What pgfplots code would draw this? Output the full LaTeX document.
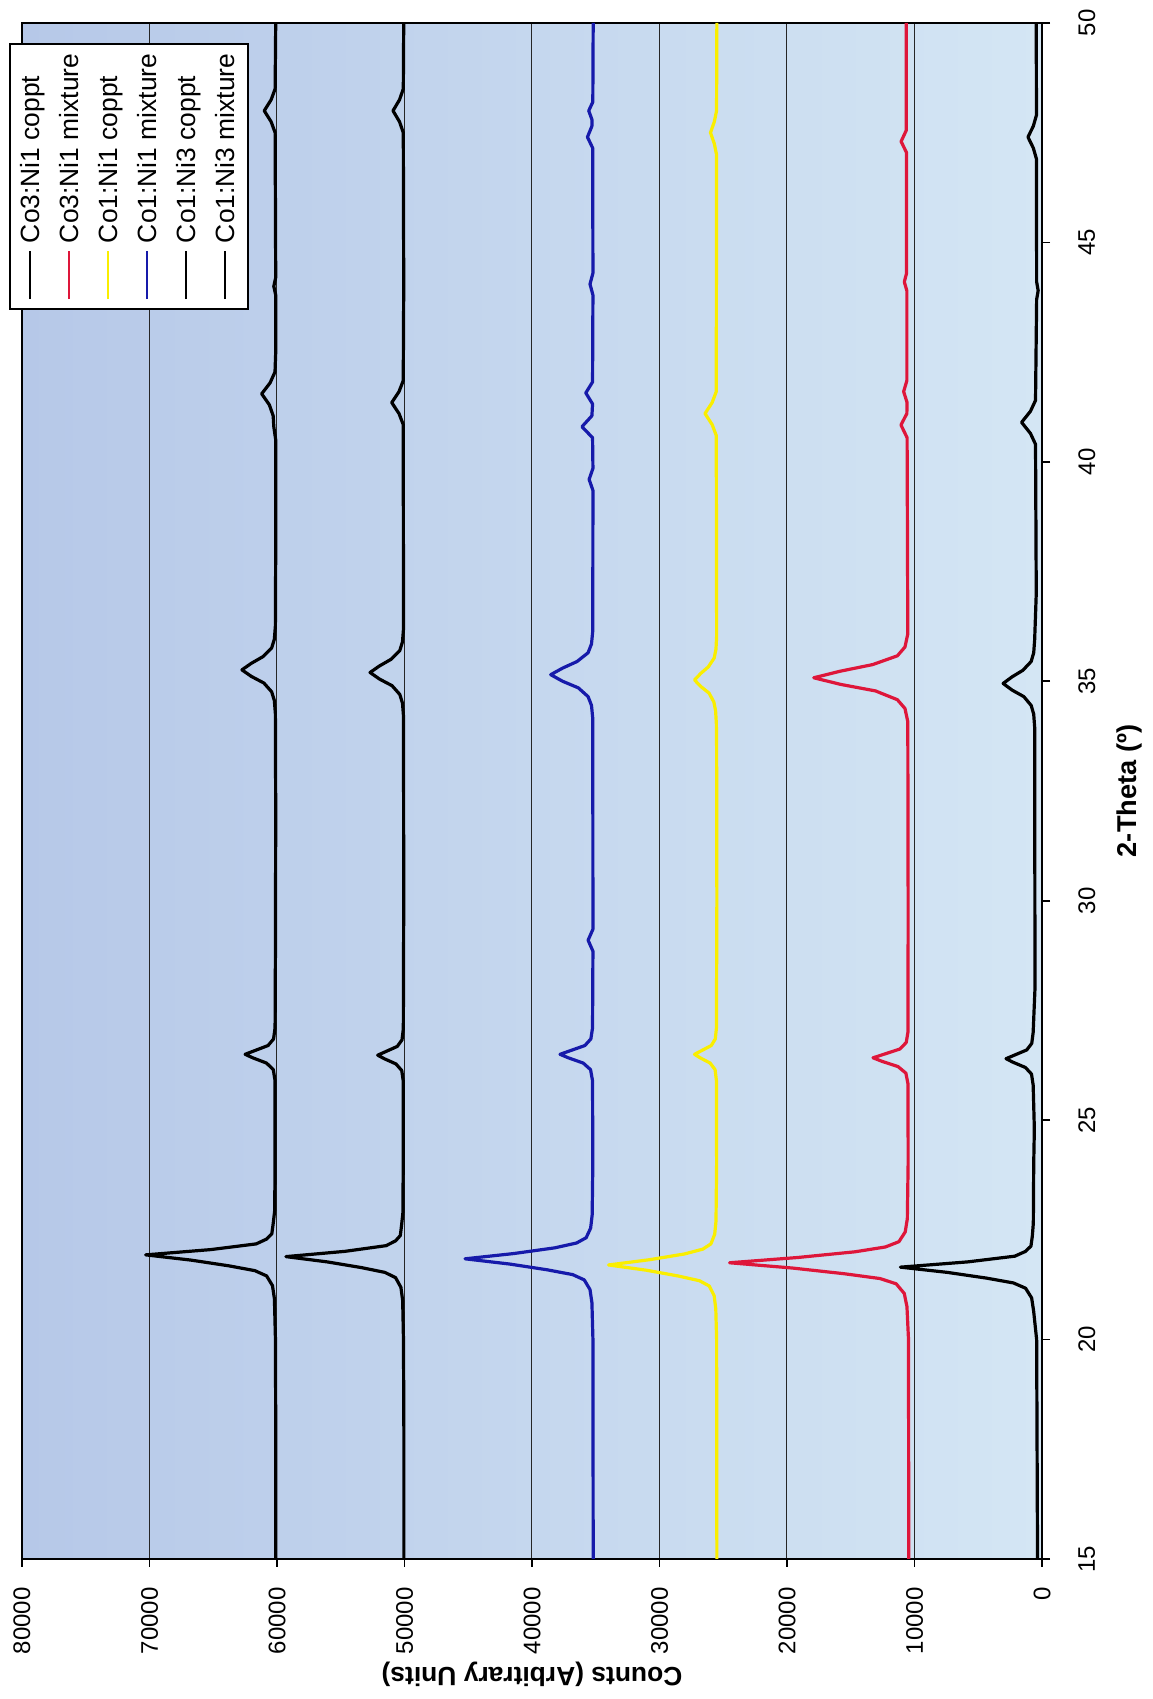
\documentclass[border=0pt]{standalone}
\usepackage{fontspec}
\setmainfont{Liberation Sans}
\usepackage{pgfplots}
\usepackage{pgfplotstable}
\pgfplotsset{compat=1.18}

\definecolor{xlred}{RGB}{222,22,58}
\definecolor{xlyellow}{RGB}{250,238,0}
\definecolor{xlblue}{RGB}{22,26,170}
\definecolor{bgleft}{RGB}{182,200,232}
\definecolor{bgmid}{RGB}{144,180,220}
\definecolor{bgright}{RGB}{212,230,244}

\newcommand{\legline}[1]{\textcolor{#1}{\rule[0.3em]{24pt}{1pt}}}

% 2-theta (t) vs counts (c), one table per sample
\pgfplotstableread{
t c
15 60100
18 60100
20 60120
20.93 60202
21.23 60355
21.45 60814
21.57 61732
21.68 63772
21.81 66730
21.93 70300
22.05 65200
22.18 61630
22.29 60814
22.41 60406
22.63 60304
22.93 60182
24 60150
25.9 60150
26.15 60290
26.3 60820
26.42 61900
26.5 62500
26.58 61780
26.7 60700
26.85 60270
27.1 60150
29 60120
32 60100
34.26 60126
34.56 60206
34.76 60418
34.96 61028
35.11 62008
35.26 62750
35.41 62008
35.56 61107
35.76 60418
35.96 60206
36.26 60126
38 60100
40.5 60100
40.8 60250
41.05 60300
41.3 60600
41.55 61200
41.8 60540
42.05 60155
42.5 60100
43.8 60100
44.0 60250
44.2 60100
47.5 60145
47.75 60460
48.0 61000
48.25 60460
48.5 60145
50 60100
}\cothreecoppt

\pgfplotstableread{
t c
15 10450
20 10470
20.75 10591
21.05 10801
21.27 11434
21.39 12698
21.5 15508
21.63 19583
21.75 24500
21.87 19161
22.0 14665
22.11 12277
22.23 11223
22.45 10731
22.75 10562
24 10500
25.82 10506
26.07 10674
26.22 11290
26.34 12550
26.42 13250
26.5 12410
26.62 11150
26.77 10646
27.02 10506
30 10500
34.08 10525
34.38 10748
34.58 11344
34.78 13058
34.93 15814
35.08 17900
35.23 15814
35.38 13281
35.58 11344
35.78 10748
36.08 10525
40.55 10580
40.84 11060
41.1 10600
41.35 10580
41.6 10850
41.85 10600
43.9 10600
44.1 10800
44.3 10620
47.05 10630
47.3 11050
47.55 10650
50 10650
}\cothreemix

\pgfplotstableread{
t c
15 25500
20 25520
20.7 25585
21.0 25713
21.22 26095
21.34 26860
21.45 28560
21.58 31025
21.7 34000
21.82 30770
21.95 28050
22.06 26605
22.18 25968
22.4 25670
22.7 25568
24 25520
25.9 25535
26.15 25640
26.3 26025
26.42 26813
26.5 27250
26.58 26725
26.7 25938
26.85 25623
27.1 25535
30 25500
33.5 25520
34.03 25540
34.33 25600
34.53 25740
34.73 26113
34.88 26760
35.03 27250
35.18 26760
35.33 26165
35.53 25710
35.73 25570
36.03 25518
40.6 25547
40.85 25872
41.1 26430
41.35 25872
41.6 25547
47.0 25525
47.25 25700
47.5 26000
47.75 25700
48.0 25525
50 25500
}\cooneonecoppt

\pgfplotstableread{
t c
15 35200
20 35220
20.84 35300
21.14 35451
21.36 35904
21.48 36808
21.59 38818
21.72 41733
21.84 45250
21.96 41431
22.09 38215
22.2 36507
22.32 35753
22.54 35401
22.84 35280
24 35230
25.9 35252
26.15 35408
26.3 35980
26.42 37150
26.5 37800
26.58 37020
26.7 35850
26.85 35382
27.1 35252
28.85 35220
29.1 35600
29.35 35220
34.15 35233
34.45 35333
34.65 35600
34.85 36366
35.0 37598
35.15 38530
35.3 37598
35.45 36465
35.65 35600
35.85 35333
36.15 35233
39.35 35220
39.6 35520
39.85 35220
40.55 35250
40.8 36080
41.05 35300
41.32 35250
41.57 35780
41.82 35250
43.8 35220
44.05 35450
44.3 35220
47.15 35240
47.4 35650
47.65 35300
47.8 35300
48.0 35550
48.2 35230
50 35200
}\cooneonemix

\pgfplotstableread{
t c
15 50050
18 50050
20 50080
20.89 50143
21.19 50281
21.41 50698
21.53 51530
21.64 53380
21.77 56063
21.89 59300
22.01 54675
22.14 51438
22.25 50698
22.37 50328
22.59 50235
22.89 50124
24 50100
25.88 50091
26.13 50214
26.28 50665
26.4 51588
26.48 52100
26.56 51485
26.68 50563
26.83 50194
27.08 50091
30 50060
34.2 50077
34.5 50156
34.7 50368
34.9 50978
35.05 51958
35.2 52700
35.35 51958
35.5 51057
35.7 50368
35.9 50156
36.2 50077
40.85 50098
41.1 50430
41.35 51000
41.6 50430
41.85 50098
44 50060
47.5 50093
47.75 50390
48.0 50900
48.25 50390
48.5 50093
50 50060
}\coonethreecoppt

\pgfplotstableread{
t c
15 350
20 420
20.65 656
20.95 814
21.17 1289
21.29 2238
21.4 4348
21.53 7408
21.65 11100
21.77 5825
21.9 2133
22.01 1289
22.13 867
22.35 761
22.65 680
24 650
24.8 600
25.8 693
26.05 824
26.2 1301
26.32 2278
26.4 2820
26.48 2169
26.6 1193
26.75 802
27.0 693
28 550
33.95 575
34.25 650
34.45 850
34.65 1425
34.8 2350
34.95 3050
35.1 2350
35.25 1500
35.45 850
35.65 650
35.95 575
37 450
40.4 508
40.65 910
40.9 1600
41.15 910
41.4 508
43.7 420
43.9 300
44.1 420
46.9 435
47.15 680
47.4 1100
47.65 680
47.9 435
50 450
}\coonethreemix

\begin{document}
\begin{tikzpicture}
\begin{axis}[
  scale only axis,
  width=510pt, height=768pt,
  x dir=reverse,
  xmin=0, xmax=80000,
  ymin=15, ymax=50,
  xtick={0,10000,...,80000},
  ytick={15,20,...,50},
  scaled x ticks=false,
  /pgf/number format/assume math mode=true,
  /pgf/number format/1000 sep={},
  xtick pos=left,
  ytick pos=right,
  yticklabel pos=right,
  tick align=outside,
  major tick length=4pt,
  tick style={black, line width=0.8pt},
  axis line style={black, line width=0.9pt},
  xmajorgrids,
  grid style={black!85, line width=0.5pt},
  axis background/.style={shade, shading=axis, left color=bgleft, middle color=bgmid, right color=bgright},
  tick label style={font=\fontsize{12}{14}\selectfont, inner sep=0pt},
  xticklabel style={rotate=90, anchor=east},
  yticklabel style={rotate=90, anchor=north},
  xticklabel shift=10pt,
  yticklabel shift=14pt,
  xlabel={\bfseries Counts (Arbitrary Units)},
  xlabel style={font=\fontsize{13.2}{15}\selectfont, rotate=180, anchor=south, inner sep=0pt,
    at={(axis description cs:0.5,-0.0665)}},
  ylabel={\bfseries 2-Theta (º)},
  ylabel style={font=\fontsize{13.6}{15}\selectfont, anchor=north, inner sep=0pt,
    at={(axis description cs:1.0725,0.5)}},
  every axis plot/.append style={line width=1.6pt, line join=round, mark=none},
]
\addplot[black] table[x=c, y=t] {\cothreecoppt};
\addplot[xlred] table[x=c, y=t] {\cothreemix};
\addplot[xlyellow] table[x=c, y=t] {\cooneonecoppt};
\addplot[xlblue] table[x=c, y=t] {\cooneonemix};
\addplot[black] table[x=c, y=t] {\coonethreecoppt};
\addplot[black] table[x=c, y=t] {\coonethreemix};
\end{axis}
% legend, turned with the rest of the chart
\node[rotate=90, anchor=north east, draw=black, line width=0.8pt, fill=white,
  inner xsep=5pt, inner ysep=1pt, font=\fontsize{13.2}{15}\selectfont]
  at ([xshift=-6.5pt,yshift=-10pt]current axis.north west) {%
  \renewcommand{\arraystretch}{1.3}%
  \begin{tabular}{@{}l@{\hspace{4pt}}l@{}}
  \legline{black} & Co3:Ni1 coppt\\
  \legline{xlred} & Co3:Ni1 mixture\\
  \legline{xlyellow} & Co1:Ni1 coppt\\
  \legline{xlblue} & Co1:Ni1 mixture\\
  \legline{black} & Co1:Ni3 coppt\\
  \legline{black} & Co1:Ni3 mixture
  \end{tabular}};
\path ([xshift=-11pt,yshift=-70pt]current axis.south west) rectangle ([xshift=55pt,yshift=11.5pt]current axis.north east);
\end{tikzpicture}
\end{document}
